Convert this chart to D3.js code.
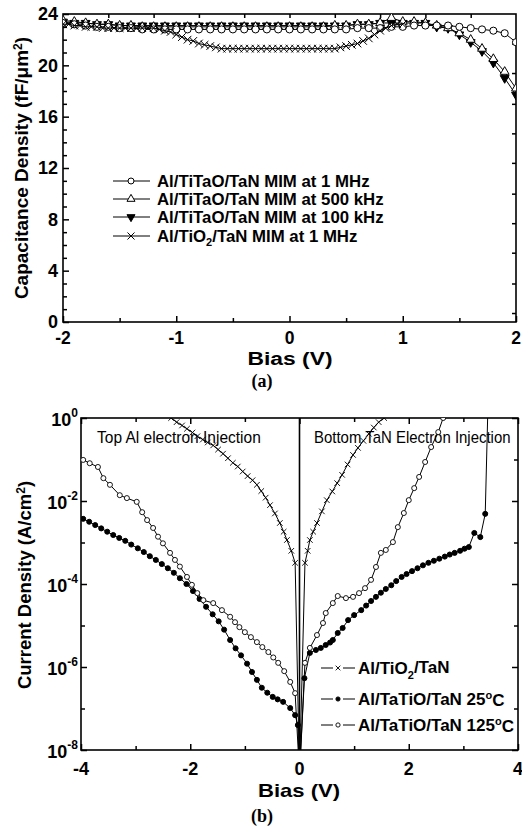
<!DOCTYPE html>
<html><head><meta charset="utf-8">
<script src="https://cdn.jsdelivr.net/npm/d3@7"></script>
<style>body{margin:0;background:#fff}svg{display:block}</style>
</head><body>
<script>
// ---------- Panel (a) data ----------
const biasA = [-2.0,-1.9,-1.8,-1.7,-1.6,-1.5,-1.4,-1.3,-1.2,-1.1,-1.0,-0.9,-0.8,-0.7,-0.6,-0.5,-0.4,-0.3,-0.2,-0.1,0.0,0.1,0.2,0.3,0.4,0.5,0.6,0.7,0.8,0.9,1.0,1.1,1.2,1.3,1.4,1.5,1.6,1.7,1.8,1.9,2.0];
const cap1MHz = [23.3,23.2,23.1,23.0,23.0,22.9,22.9,22.8,22.8,22.8,22.8,22.8,22.8,22.8,22.8,22.8,22.8,22.8,22.8,22.8,22.8,22.8,22.8,22.8,22.8,22.8,22.9,22.9,22.9,23.0,23.0,23.1,23.1,23.1,23.1,23.0,22.9,22.8,22.7,22.5,21.8];
const cap500k = [23.5,23.4,23.3,23.2,23.2,23.1,23.1,23.0,23.0,23.0,23.0,23.0,23.0,23.0,23.0,23.0,23.0,23.0,23.0,23.0,23.0,23.0,23.0,23.0,23.1,23.1,23.2,23.2,23.3,23.7,23.4,23.4,23.3,23.1,22.9,22.5,22.0,21.3,20.5,19.5,18.2];
const cap100k = [23.4,23.3,23.3,23.2,23.2,23.1,23.1,23.1,23.1,23.1,23.1,23.1,23.1,23.1,23.1,23.1,23.1,23.1,23.1,23.1,23.1,23.1,23.1,23.1,23.1,23.1,23.2,23.2,23.3,23.3,23.3,23.3,23.3,23.0,22.9,22.4,21.8,21.1,20.2,19.0,17.7];
const biasTiO2 = [-2.00,-1.95,-1.90,-1.85,-1.80,-1.75,-1.70,-1.65,-1.60,-1.55,-1.50,-1.45,-1.40,-1.35,-1.30,-1.25,-1.20,-1.15,-1.10,-1.05,-1.00,-0.95,-0.90,-0.85,-0.80,-0.75,-0.70,-0.65,-0.60,-0.55,-0.50,-0.45,-0.40,-0.35,-0.30,-0.25,-0.20,-0.15,-0.10,-0.05,0.00,0.05,0.10,0.15,0.20,0.25,0.30,0.35,0.40,0.45,0.50,0.55,0.60,0.65,0.70,0.75,0.80,0.85,0.90,0.95,1.00];
const capTiO2 = [23.2,23.2,23.1,23.1,23.0,23.0,23.0,22.9,22.9,22.9,22.9,22.9,22.9,22.9,22.9,22.9,22.9,22.8,22.7,22.6,22.4,22.2,22.0,21.9,21.7,21.6,21.5,21.4,21.3,21.3,21.3,21.3,21.3,21.3,21.3,21.3,21.3,21.3,21.3,21.3,21.3,21.3,21.3,21.3,21.3,21.3,21.3,21.3,21.3,21.4,21.5,21.6,21.7,21.9,22.1,22.4,22.7,22.9,23.1,23.2,23.2];
const legendA = ["Al/TiTaO/TaN MIM at 1 MHz","Al/TiTaO/TaN MIM at 500 kHz","Al/TiTaO/TaN MIM at 100 kHz","Al/TiO|2|/TaN MIM at 1 MHz"];
const xTicksA = [-2,-1,0,1,2];
const xMinorA = [-1.5,-0.5,0.5,1.5];
const xTopTicksA = [-1.6,-1.2,-0.8,-0.4,0,0.4,0.8,1.2,1.6];
const yTicksA = [0,4,8,12,16,20,24];
const yMinorA = [1,2,3,5,6,7,9,10,11,13,14,15,17,18,19,21,22,23];
const yRightTicksA = [0.7,3.0,5.4,7.7,10.0,12.4,14.7,17.0,19.4,21.7];

// ---------- Panel (b) data (log10 of current density) ----------
const biasTiO2b = [-2.35,-2.25,-2.15,-2.06,-1.96,-1.87,-1.77,-1.68,-1.58,-1.49,-1.40,-1.31,-1.22,-1.13,-1.04,-0.95,-0.86,-0.78,-0.70,-0.62,-0.54,-0.45,-0.36,-0.29,-0.23,-0.15,-0.08,0.0,0.10,0.15,0.19,0.25,0.32,0.41,0.50,0.60,0.69,0.78,0.88,0.98,1.07,1.17,1.27,1.36,1.45,1.55];
const logJTiO2 = [0.0,-0.10,-0.18,-0.26,-0.35,-0.44,-0.52,-0.59,-0.66,-0.76,-0.86,-0.97,-1.08,-1.17,-1.29,-1.40,-1.50,-1.61,-1.76,-1.92,-2.10,-2.30,-2.53,-2.74,-2.94,-3.20,-3.49,-8.6,-3.49,-3.20,-2.94,-2.74,-2.53,-2.25,-1.98,-1.77,-1.57,-1.37,-1.12,-0.89,-0.72,-0.55,-0.38,-0.23,-0.10,0.0];
const bias25C = [-3.96,-3.85,-3.74,-3.63,-3.52,-3.41,-3.30,-3.19,-3.08,-2.96,-2.85,-2.74,-2.63,-2.52,-2.41,-2.30,-2.19,-2.07,-1.95,-1.83,-1.71,-1.59,-1.48,-1.38,-1.27,-1.17,-1.07,-0.96,-0.87,-0.78,-0.69,-0.59,-0.49,-0.40,-0.30,-0.17,-0.08,-0.03,0.0,0.09,0.19,0.30,0.39,0.48,0.56,0.61,0.70,0.79,0.89,1.00,1.13,1.22,1.31,1.40,1.49,1.58,1.68,1.77,1.87,1.96,2.06,2.16,2.26,2.36,2.46,2.56,2.66,2.75,2.84,2.94,3.02,3.10,3.20,3.31,3.40,3.45];
const logJ25C = [-2.43,-2.50,-2.58,-2.66,-2.74,-2.82,-2.89,-2.96,-3.05,-3.14,-3.23,-3.33,-3.42,-3.52,-3.62,-3.73,-3.86,-4.00,-4.17,-4.36,-4.55,-4.73,-4.90,-5.10,-5.35,-5.55,-5.72,-5.92,-6.12,-6.31,-6.50,-6.62,-6.72,-6.78,-6.84,-6.99,-7.16,-7.40,-8.6,-6.27,-5.66,-5.59,-5.54,-5.47,-5.41,-5.35,-5.18,-5.06,-4.87,-4.75,-4.63,-4.52,-4.41,-4.31,-4.21,-4.12,-4.03,-3.93,-3.83,-3.76,-3.69,-3.62,-3.55,-3.49,-3.44,-3.39,-3.34,-3.29,-3.25,-3.20,-3.15,-3.11,-2.77,-2.87,-2.31,0.3];
const bias125C = [-3.96,-3.84,-3.69,-3.59,-3.47,-3.29,-3.16,-2.98,-2.88,-2.79,-2.68,-2.59,-2.50,-2.37,-2.28,-2.19,-2.06,-1.97,-1.87,-1.76,-1.58,-1.42,-1.27,-1.18,-1.10,-1.00,-0.89,-0.78,-0.68,-0.57,-0.48,-0.39,-0.28,-0.17,-0.08,0.0,0.10,0.19,0.32,0.43,0.48,0.61,0.70,0.85,0.98,1.09,1.20,1.31,1.40,1.49,1.58,1.71,1.80,1.91,2.00,2.10,2.19,2.30,2.41,2.54,2.63];
const logJ125C = [-1.01,-1.09,-1.18,-1.45,-1.61,-1.86,-1.93,-2.02,-2.27,-2.46,-2.65,-2.86,-3.02,-3.25,-3.42,-3.58,-3.83,-4.02,-4.22,-4.39,-4.46,-4.63,-4.79,-4.92,-5.04,-5.16,-5.28,-5.40,-5.52,-5.64,-5.77,-5.90,-6.10,-6.36,-6.63,-8.6,-5.90,-5.54,-5.23,-4.94,-4.70,-4.46,-4.29,-4.34,-4.31,-4.22,-4.10,-3.90,-3.59,-3.25,-3.18,-2.99,-2.63,-2.29,-1.98,-1.69,-1.42,-1.06,-0.70,-0.34,0.0];
const zeroLineB = [-8.6, 0.2];
const legendB = ["Al/TiO|2|/TaN","Al/TaTiO/TaN 25|o|C","Al/TaTiO/TaN 125|o|C"];
const xTicksB = [-4,-2,0,2,4];
const xMinorB = [-3,-1,1,3];
const yTicksB = [-8,-6,-4,-2,0];
const yMinorB = [-7,-5,-3,-1];

// ---------- drawing ----------
const W = 522, H = 831;
const svg = d3.select("body").append("svg").attr("width", W).attr("height", H);
const FONT = "'Liberation Sans', Arial, sans-serif";
const SERIF = "'Liberation Serif', 'Times New Roman', serif";

function tickAxis(g, axisFn, scale, vals, len, transform) {
  g.append("g").attr("transform", transform)
    .call(axisFn(scale).tickValues(vals).tickSize(len).tickFormat(""))
    .call(s => s.select(".domain").remove())
    .call(s => s.selectAll("line").attr("stroke", "#000").attr("stroke-width", 1.5));
}
function markerPath(type, s) {
  if (type === "circle") return d3.symbol(d3.symbolCircle, s)();
  if (type === "triUp" || type === "triDown") return d3.symbol(d3.symbolTriangle, s)();
  return d3.symbol(d3.symbolX, s)();
}
function drawSeries(g, xs, ys, xScale, yFn, type, opts) {
  const data = xs.map((x, i) => [x, ys[i]]);
  const line = d3.line().x(d => xScale(d[0])).y(d => yFn(d[1]));
  g.append("g").attr("clip-path", opts.clip)
    .append("path").attr("d", line(data)).attr("fill", "none").attr("stroke", "#000").attr("stroke-width", opts.lw || 1);
  g.append("g").attr("clip-path", opts.clip)
    .selectAll("path").data(data.filter(d => opts.keep ? opts.keep(d) : true)).join("path")
    .attr("d", markerPath(type, opts.size))
    .attr("transform", d => `translate(${xScale(d[0])},${yFn(d[1])})${type === "triDown" ? " rotate(180)" : ""}`)
    .attr("fill", opts.fill).attr("stroke", "#000").attr("stroke-width", opts.sw || 1);
}

// ======== Panel (a) ========
const xA = d3.scaleLinear().domain([-2, 2]).range([63, 516]);
const yA = d3.scaleLinear().domain([0, 24]).range([322, 14]);
const gA = svg.append("g");
gA.append("defs").append("clipPath").attr("id", "clipA")
  .append("rect").attr("x", 63).attr("y", 14).attr("width", 453).attr("height", 308);

gA.append("rect").attr("x", xA(-2)).attr("y", yA(24)).attr("width", xA(2) - xA(-2)).attr("height", yA(0) - yA(24))
  .attr("fill", "none").attr("stroke", "#000").attr("stroke-width", 1.6);

tickAxis(gA, d3.axisBottom, xA, xTicksA, -6, `translate(0,${yA(0)})`);
tickAxis(gA, d3.axisBottom, xA, xMinorA, -4, `translate(0,${yA(0)})`);
tickAxis(gA, d3.axisTop, xA, xTopTicksA, -4, `translate(0,${yA(24)})`);
tickAxis(gA, d3.axisLeft, yA, yTicksA, -6, `translate(${xA(-2)},0)`);
tickAxis(gA, d3.axisLeft, yA, yMinorA, -4, `translate(${xA(-2)},0)`);
tickAxis(gA, d3.axisRight, yA, yRightTicksA, -4, `translate(${xA(2)},0)`);

gA.append("g").selectAll("text").data(xTicksA).join("text")
  .attr("x", d => xA(d)).attr("y", 344).attr("text-anchor", "middle")
  .attr("font-family", FONT).attr("font-weight", "bold").attr("font-size", 17.5).text(d => d);
gA.append("g").selectAll("text").data(yTicksA).join("text")
  .attr("x", 58).attr("y", d => yA(d)).attr("dy", "0.36em").attr("text-anchor", "end")
  .attr("font-family", FONT).attr("font-weight", "bold").attr("font-size", 18).text(d => d);
gA.append("text").attr("x", 290).attr("y", 365).attr("text-anchor", "middle")
  .attr("textLength", 85).attr("lengthAdjust", "spacingAndGlyphs")
  .attr("font-family", FONT).attr("font-weight", "bold").attr("font-size", 18).text("Bias (V)");
{
  const t = gA.append("text").attr("transform", "translate(28,168) rotate(-90)").attr("text-anchor", "middle")
    .attr("font-family", FONT).attr("font-weight", "bold").attr("font-size", 19);
  t.append("tspan").text("Capacitance Density (fF/\u03bcm");
  t.append("tspan").attr("font-size", 12).attr("dy", "-0.5em").text("2");
  t.append("tspan").attr("dy", "0.3em").text(")");
}
gA.append("text").attr("x", 262).attr("y", 387).attr("text-anchor", "middle")
  .attr("font-family", SERIF).attr("font-weight", "bold").attr("font-size", 18).text("(a)");

const clipA = "url(#clipA)";
drawSeries(gA, biasA, cap100k, xA, yA, "triDown", {fill: "#000", size: 34, clip: clipA});
drawSeries(gA, biasA, cap500k, xA, yA, "triUp", {fill: "#fff", size: 34, clip: clipA});
drawSeries(gA, biasA, cap1MHz, xA, yA, "circle", {fill: "#fff", size: 40, clip: clipA});
drawSeries(gA, biasTiO2, capTiO2, xA, yA, "cross", {fill: "none", size: 40, clip: clipA});

// legend (a)
const legA = gA.append("g");
const legTypes = ["circle", "triUp", "triDown", "cross"];
const legFills = ["#fff", "#fff", "#000", "none"];
const legAY = [181, 199, 217, 236];
legendA.forEach((lab, i) => {
  const y = legAY[i];
  legA.append("line").attr("x1", 113).attr("x2", 150).attr("y1", y).attr("y2", y).attr("stroke", "#000").attr("stroke-width", 1);
  legA.append("path").attr("d", markerPath(legTypes[i], legTypes[i] === "cross" ? 34 : 28))
    .attr("transform", `translate(131,${y})${legTypes[i] === "triDown" ? " rotate(180)" : ""}`)
    .attr("fill", legFills[i]).attr("stroke", "#000").attr("stroke-width", 1);
  const t = legA.append("text").attr("x", 157).attr("y", y).attr("dy", "0.36em")
    .attr("font-family", FONT).attr("font-weight", "bold").attr("font-size", 16.8);
  lab.split("|").forEach((p, k) => {
    const ts = t.append("tspan").text(p);
    if (k === 1) ts.attr("font-size", 11).attr("dy", "0.35em");
    if (k === 2) ts.attr("dy", "-0.25em");
  });
});

// ======== Panel (b) ========
const xB = d3.scaleLinear().domain([-4, 4]).range([81, 518]);
const yBlog = d3.scaleLog().domain([1e-8, 1]).range([750, 418]);
const yB = v => yBlog(Math.pow(10, v));
const gB = svg.append("g");
gB.append("defs").append("clipPath").attr("id", "clipB")
  .append("rect").attr("x", 81).attr("y", 418).attr("width", 437).attr("height", 332);

gB.append("rect").attr("x", xB(-4)).attr("y", 418).attr("width", xB(4) - xB(-4)).attr("height", 332)
  .attr("fill", "none").attr("stroke", "#000").attr("stroke-width", 1.6);

const logVals = a => a.map(v => Math.pow(10, v));
tickAxis(gB, d3.axisBottom, xB, xTicksB, -6, `translate(0,750)`);
tickAxis(gB, d3.axisBottom, xB, xMinorB, -4, `translate(0,750)`);
tickAxis(gB, d3.axisTop, xB, xTicksB, -6, `translate(0,418)`);
tickAxis(gB, d3.axisTop, xB, xMinorB, -4, `translate(0,418)`);
tickAxis(gB, d3.axisLeft, yBlog, logVals(yTicksB), -6, `translate(${xB(-4)},0)`);
tickAxis(gB, d3.axisLeft, yBlog, logVals(yMinorB), -4, `translate(${xB(-4)},0)`);
tickAxis(gB, d3.axisRight, yBlog, logVals(yTicksB), -6, `translate(${xB(4)},0)`);
tickAxis(gB, d3.axisRight, yBlog, logVals(yMinorB), -4, `translate(${xB(4)},0)`);

gB.append("g").selectAll("text").data(xTicksB).join("text")
  .attr("x", d => xB(d)).attr("y", 775).attr("text-anchor", "middle")
  .attr("font-family", FONT).attr("font-weight", "bold").attr("font-size", 18).text(d => d);
gB.append("g").selectAll("text").data(yTicksB).join("text")
  .attr("x", 78).attr("y", d => yB(d)).attr("dy", "0.45em").attr("text-anchor", "end")
  .attr("font-family", FONT).attr("font-weight", "bold").attr("font-size", 18)
  .each(function (d) {
    const t = d3.select(this);
    t.append("tspan").text("10");
    t.append("tspan").attr("font-size", 12).attr("dy", "-0.75em").text(d);
  });
gB.append("text").attr("x", 299).attr("y", 797).attr("text-anchor", "middle")
  .attr("textLength", 82).attr("lengthAdjust", "spacingAndGlyphs")
  .attr("font-family", FONT).attr("font-weight", "bold").attr("font-size", 19).text("Bias (V)");
{
  const t = gB.append("text").attr("transform", "translate(31,585) rotate(-90)").attr("text-anchor", "middle")
    .attr("font-family", FONT).attr("font-weight", "bold").attr("font-size", 18.5);
  t.append("tspan").text("Current Density (A/cm");
  t.append("tspan").attr("font-size", 12).attr("dy", "-0.5em").text("2");
  t.append("tspan").attr("dy", "0.3em").text(")");
}
gB.append("text").attr("x", 262).attr("y", 822).attr("text-anchor", "middle")
  .attr("font-family", SERIF).attr("font-weight", "bold").attr("font-size", 18).text("(b)");

// annotations (horizontally condensed text)
gB.append("text").attr("transform", "translate(97,443) scale(0.97,1)")
  .attr("font-family", FONT).attr("font-size", 16).text("Top Al electron Injection");
gB.append("text").attr("transform", "translate(314,443) scale(0.935,1)")
  .attr("font-family", FONT).attr("font-size", 16).text("Bottom TaN Electron Injection");

const clipB = "url(#clipB)";
gB.append("path").attr("clip-path", clipB)
  .attr("d", d3.line().x(() => xB(0)).y(d => yB(d))(zeroLineB))
  .attr("stroke", "#000").attr("stroke-width", 1.6).attr("fill", "none");
const inPlot = d => d[1] > -7.9 && d[1] < 0.01;
drawSeries(gB, biasTiO2b, logJTiO2, xB, yB, "cross", {fill: "none", size: 22, clip: clipB, keep: inPlot, sw: 0.9});
drawSeries(gB, bias25C, logJ25C, xB, yB, "circle", {fill: "#000", size: 20, clip: clipB, keep: inPlot});
drawSeries(gB, bias125C, logJ125C, xB, yB, "circle", {fill: "#fff", size: 20, clip: clipB, keep: inPlot, sw: 0.9});

// legend (b)
const legB = gB.append("g");
const legBTypes = ["cross", "circle", "circle"];
const legBFills = ["none", "#000", "#fff"];
const legBY = [668, 699, 725];
legendB.forEach((lab, i) => {
  const y = legBY[i];
  legB.append("line").attr("x1", 321).attr("x2", 333).attr("y1", y).attr("y2", y).attr("stroke", "#000");
  legB.append("line").attr("x1", 343).attr("x2", 355).attr("y1", y).attr("y2", y).attr("stroke", "#000");
  legB.append("path").attr("d", markerPath(legBTypes[i], legBTypes[i] === "cross" ? 16 : 14))
    .attr("transform", `translate(338,${y})`)
    .attr("fill", legBFills[i]).attr("stroke", "#000").attr("stroke-width", 0.9);
  const t = legB.append("text").attr("x", 358).attr("y", y).attr("dy", "0.36em")
    .attr("font-family", FONT).attr("font-weight", "bold").attr("font-size", 17);
  lab.split("|").forEach((p, k) => {
    if (p === "") return;
    const ts = t.append("tspan").text(p);
    if (k === 1) {
      if (i === 0) ts.attr("font-size", 11).attr("dy", "0.4em");
      else ts.attr("font-size", 11).attr("dy", "-0.6em");
    }
    if (k === 2) ts.attr("dy", i === 0 ? "-0.3em" : "0.45em");
  });
});
</script>
</body></html>
